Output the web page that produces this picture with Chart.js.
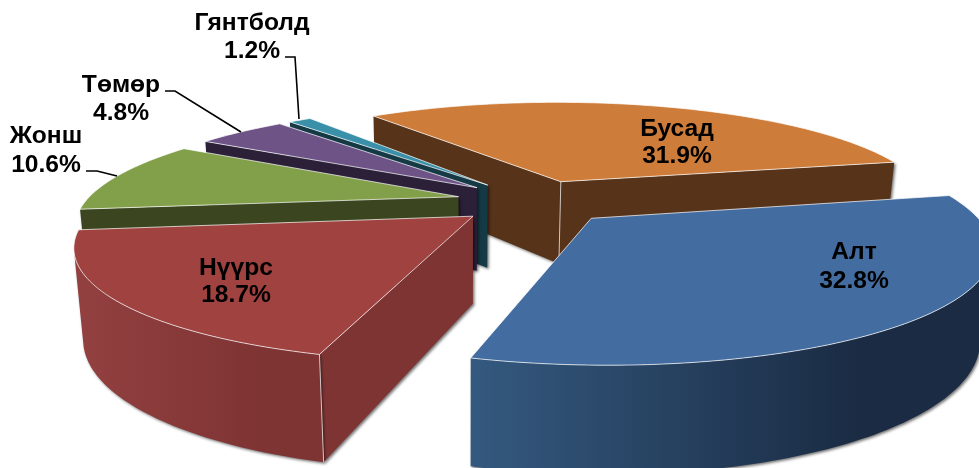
<!DOCTYPE html>
<html><head><meta charset="utf-8"><style>html,body{margin:0;padding:0;background:#fff}canvas{display:block}</style>
<script src="https://cdn.jsdelivr.net/npm/chart.js@4"></script></head>
<body><canvas id="c" width="979" height="468"></canvas>
<script>
const categories=['Бусад','Алт','Нүүрс','Жонш','Төмөр','Гянтболд'];
const shares=[31.9,32.8,18.7,10.6,4.8,1.2];
const explodeOffsets=[44.03,45.13,44.58,44.71,44.06,43.84];
const topColors=['#cd7c3a','#436ca0','#a04240','#82a04a','#6e5387','#3a90a8'];
const wallColors=['#57331a','#34587f','#7e3433','#3b451f','#2c2039','#163a45'];
const outerLeft=['#57331a','#34597f','#934040','#3b451f','#2c2039','#163a45'];
const outerRight=['#57331a','#1a2b43','#7e3433','#3b451f','#2c2039','#163a45'];
const paintOrder=[0,5,4,3,2,1];
const labelSpots=[[677,136,163],[854,259,288],[236,275,302],[46,143,172],[121,92,120],[252,30,58]];
const leaders=[[],[],[],[[86,171],[97,171],[117,176]],[[165,91],[175,91],[241,132]],[[285,57],[295,57],[299,119]]];
const view={cx:534.82,cy:201.35,R:373.135,k:.2815,s:-.0012,p:.2242,q:.0007,D:.2334,a:-.004,i:-.022};
function proj(u,v,z){const w=1-view.p*v-view.q*u-view.i*z;
  return [view.cx+view.R*(u+view.s*v+view.a*z)/w, view.cy+view.R*(view.k*v+view.D*z)/w];}
function poly(c,pts){c.beginPath();pts.forEach((q,n)=>n?c.lineTo(q[0],q[1]):c.moveTo(q[0],q[1]));c.closePath();}
const EDGE='rgba(255,255,255,.7)';
const pie3d={id:'pie3d',
 beforeDatasetsDraw(chart){
  const c=chart.ctx,arcs=chart.getDatasetMeta(0).data;
  for(const j of paintOrder){
   const el=arcs[j],a0=el.startAngle,a1=el.endAngle,m=(a0+a1)/2,e=el.options.offset/el.outerRadius;
   const ax=e*Math.cos(m),ay=e*Math.sin(m);
   const rim=(t,z)=>proj(ax+Math.cos(t),ay+Math.sin(t),z),tip=z=>proj(ax,ay,z);
   const arcT=[];const N=Math.max(4,Math.ceil((a1-a0)/0.02));for(let n=0;n<=N;n++)arcT.push(a0+(a1-a0)*n/N);
   const shadow=on=>{c.shadowColor=on?'rgba(0,0,0,.55)':'transparent';c.shadowBlur=on?3:0;c.shadowOffsetX=on?1.5:0;c.shadowOffsetY=on?1.5:0;};
   const startVisible=Math.cos(a0)<0, endVisible=Math.cos(a1)>0;
   shadow(true);c.fillStyle=wallColors[j];
   if(startVisible){poly(c,[tip(0),rim(a0,0),rim(a0,1),tip(1)]);c.fill();}
   if(endVisible){poly(c,[tip(0),rim(a1,0),rim(a1,1),tip(1)]);c.fill();}
   // keep only the part of the rim whose wall faces the viewer
   const area=(t,d)=>{const q=[rim(t,0),rim(t+d,0),rim(t+d,1),rim(t,1)];let s=0;for(let n=0;n<4;n++){const A=q[n],B=q[(n+1)%4];s+=A[0]*B[1]-B[0]*A[1];}return s;};
   const front=arcT.filter(t=>area(t,.005)<0&&Math.sin(t)>-.3);
   if(front.length>1){
    const up=front.map(t=>rim(t,0)),dn=front.map(t=>rim(t,1)).reverse();
    const xs=up.concat(dn).map(q=>q[0]);const g=c.createLinearGradient(Math.min(...xs),0,Math.max(...xs),0);
    g.addColorStop(0,outerLeft[j]);g.addColorStop(.75,outerRight[j]);g.addColorStop(1,outerRight[j]);
    c.fillStyle=g;poly(c,up.concat(dn));c.fill();
   }
   shadow(false);
   c.strokeStyle=EDGE;c.lineWidth=1;
   const seg=(A,B)=>{c.beginPath();c.moveTo(A[0],A[1]);c.lineTo(B[0],B[1]);c.stroke();};
   if(startVisible&&Math.sin(a0)>.2)seg(rim(a0,0),rim(a0,1));
   if(endVisible&&Math.sin(a1)>.2)seg(rim(a1,0),rim(a1,1));
   if(startVisible&&endVisible)seg(tip(0),tip(1));
   const face=[tip(0)].concat(arcT.map(t=>rim(t,0)));
   c.fillStyle=el.options.backgroundColor;poly(c,face);c.fill();
   c.strokeStyle=EDGE;c.lineWidth=1;c.stroke();
  }
  return false;
 },
 afterDraw(chart){
  const c=chart.ctx;c.save();c.fillStyle='#000';c.textAlign='center';c.textBaseline='alphabetic';c.font='bold 24.6px "Liberation Sans", Arial, sans-serif';
  categories.forEach((name,j)=>{const [x,b1,b2]=labelSpots[j];c.fillText(name,x,b1);c.fillText(shares[j].toFixed(1)+'%',x,b2);});
  c.strokeStyle='#000';c.lineWidth=1.6;
  leaders.forEach(l=>{if(l.length){c.beginPath();l.forEach((q,n)=>n?c.lineTo(q[0],q[1]):c.moveTo(q[0],q[1]));c.stroke();}});
  c.restore();
 }};
new Chart(document.getElementById('c'),{type:'pie',
 data:{labels:categories,datasets:[{data:shares,backgroundColor:topColors,offset:explodeOffsets,borderWidth:0}]},
 options:{responsive:false,animation:false,rotation:-37.05,layout:{padding:0},plugins:{legend:{display:false},tooltip:{enabled:false}}},
 plugins:[pie3d]});
</script></body></html>
